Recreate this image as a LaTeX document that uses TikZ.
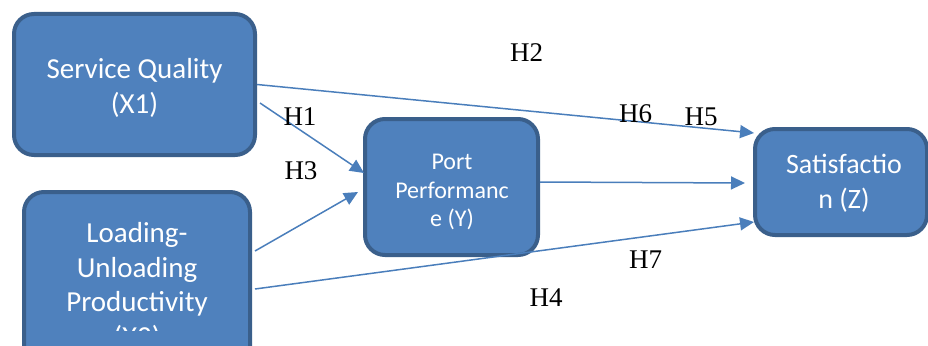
\documentclass[tikz,border=0pt]{standalone}
\usepackage{fontspec}
\setmainfont{Liberation Serif}
\newfontfamily\boxfont{Carlito}
\usetikzlibrary{arrows.meta}
\definecolor{boxfill}{HTML}{4F81BD}
\definecolor{boxline}{HTML}{3A5F8B}
\definecolor{arrowcol}{HTML}{4A7EBB}
\tikzset{
  varbox/.style={draw=boxline, fill=boxfill, line width=4pt, rounded corners=20pt, inner sep=0pt},
  boxtext/.style={text=white, align=center, inner sep=0pt, font=\boxfont\fontsize{29}{35.5}\selectfont},
  link/.style={draw=arrowcol, line width=1.5pt, -{Triangle[length=14pt,width=13pt]}},
  hlabel/.style={anchor=base, inner sep=0pt, font=\fontsize{27}{30}\selectfont}
}
\begin{document}
\begin{tikzpicture}[x=1pt,y=-1pt]
\useasboundingbox (0,0) rectangle (928,345);
\begin{scope}
\clip (0,0) rectangle (928,345);
\node[varbox, minimum width=241pt, minimum height=141pt] (sq) at (134.5,84.5) {};
\node[varbox, minimum width=226pt, minimum height=186pt] (load) at (137,285) {};
\node[varbox, minimum width=173pt, minimum height=136pt] (port) at (451.5,187) {};
\node[varbox, minimum width=172pt, minimum height=106pt] (sat) at (841,182) {};
\end{scope}
\node[boxtext] (sqt) at (134.5,88) {Service Quality\\(X1)};
\begin{scope}
\clip (0,0) rectangle (928,330);
\node[boxtext, font=\boxfont\fontsize{29}{34.5}\selectfont] (loadt) at (137,286.5) {Loading-\\Unloading\\Productivity\\(X2)};
\end{scope}
\node[boxtext, font=\boxfont\fontsize{24}{28.5}\selectfont] (portt) at (452,192) {Port\\Performanc\\e (Y)};
\node[boxtext, font=\boxfont\fontsize{28}{35}\selectfont] (satt) at (844,183.5) {Satisfactio\\n (Z)};
\draw[link] (sq.east) -- ([shift={(1,6)}]sat.north west);
\draw[link] ([shift={(3,18.5)}]sq.east) -- ([shift={(1,-14)}]port.west);
\draw[link] ([shift={(3,-34)}]load.east) -- ([shift={(-5,5)}]port.west);
\draw[link] ([shift={(0,-5)}]port.east) -- ([shift={(-8,1)}]sat.west);
\draw[link] ([shift={(3,4)}]load.east) -- ([shift={(1,-15)}]sat.south west);
\node[hlabel] (h2) at (526.5,62) {H2};
\node[hlabel] (h1) at (300,125) {H1};
\node[hlabel] (h3) at (301,179) {H3};
\node[hlabel] (h6) at (635.5,122) {H6};
\node[hlabel] (h5) at (701,125) {H5};
\node[hlabel] (h7) at (645.5,268) {H7};
\node[hlabel] (h4) at (546,306) {H4};
\end{tikzpicture}
\end{document}
